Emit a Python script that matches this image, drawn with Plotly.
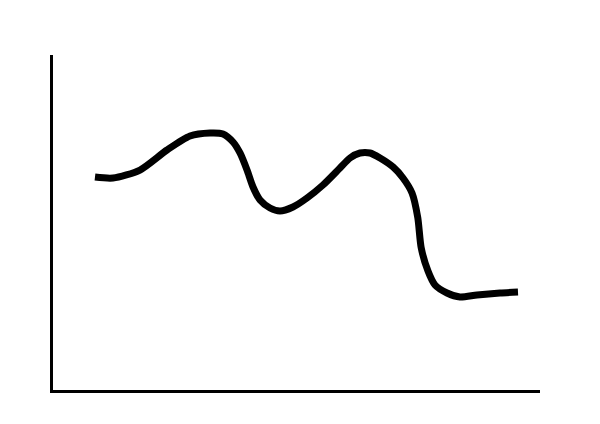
import plotly.graph_objects as go

# Hand-drawn curve, values (axis units 0-100)
x_vals = [8.62, 12.32, 17.86, 23.41, 28.13, 32.24, 34.91, 36.96, 38.40, 39.84,
          41.07, 42.51, 44.56, 46.61, 49.28, 52.16, 55.44, 58.93, 60.99, 63.04,
          65.09, 67.15, 69.82, 71.87, 73.72, 74.90, 75.60, 77.00, 78.44,
          80.90, 83.57, 87.06, 91.79, 95.48]
y_vals = [63.58, 63.28, 65.67, 71.64, 75.82, 76.72, 76.42, 74.03, 70.75, 65.67,
          60.60, 56.72, 54.33, 53.43, 54.63, 57.31, 61.19, 66.27, 69.25, 70.75,
          70.75, 69.25, 66.57, 63.28, 58.81, 51.50, 42.50, 35.50, 31.34,
          28.96, 27.76, 28.36, 28.96, 29.25]

fig = go.Figure()
fig.add_trace(go.Scatter(
    x=x_vals, y=y_vals, mode="lines",
    line=dict(color="black", width=7, shape="spline", smoothing=0.7),
    hoverinfo="skip", showlegend=False,
))

fig.update_layout(
    width=600, height=424,
    margin=dict(l=45, r=68, t=47, b=42),
    paper_bgcolor="white", plot_bgcolor="white",
    xaxis=dict(range=[0, 100], showgrid=False, zeroline=False, showticklabels=False,
               ticks="", showline=True, linecolor="black", linewidth=3),
    yaxis=dict(range=[0, 100], showgrid=False, zeroline=False, showticklabels=False,
               ticks="", showline=True, linecolor="black", linewidth=3),
)

fig.write_html("out.html")
